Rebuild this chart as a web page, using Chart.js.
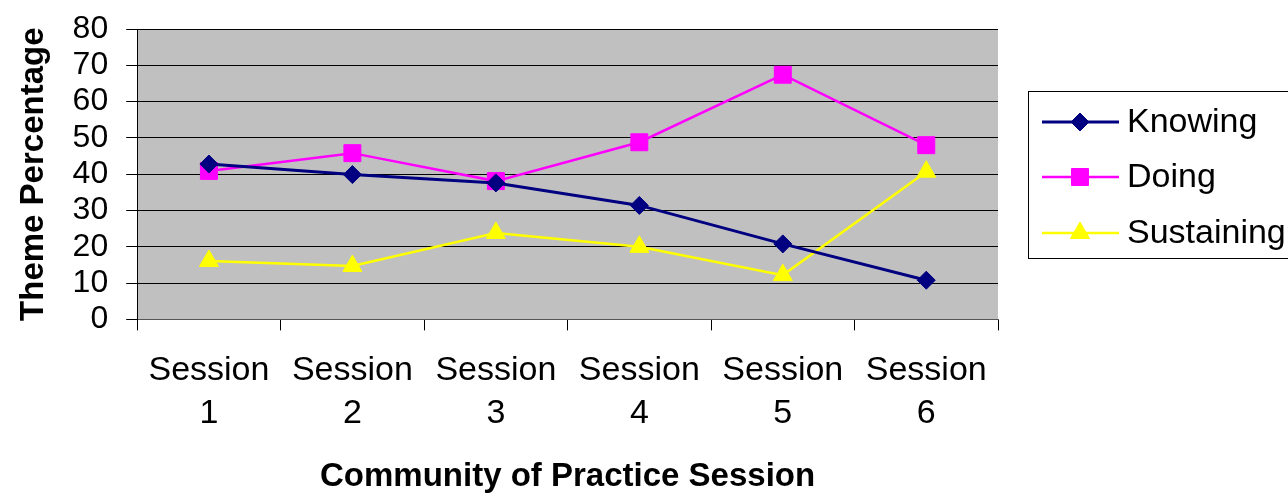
<!DOCTYPE html>
<html>
<head>
<meta charset="utf-8">
<script src="https://cdn.jsdelivr.net/npm/chart.js@4/dist/chart.umd.min.js"></script>
<style>
  html, body { margin: 0; padding: 0; background: #ffffff; }
  #wrap { width: 1288px; height: 493px; position: relative; }
</style>
</head>
<body>
<div id="wrap"><canvas id="c" width="1288" height="493"></canvas></div>
<script>
// ---- Data ----
const categories = ['Session 1', 'Session 2', 'Session 3', 'Session 4', 'Session 5', 'Session 6'];
const xTickLabels = [['Session', '1'], ['Session', '2'], ['Session', '3'], ['Session', '4'], ['Session', '5'], ['Session', '6']];
const seriesNames = ['Knowing', 'Doing', 'Sustaining'];
const knowing = [42.8, 39.9, 37.6, 31.4, 20.8, 10.8];
const doing = [40.9, 45.8, 38.1, 48.8, 67.4, 48.0];
const sustaining = [16.1, 14.7, 23.8, 20.0, 12.2, 40.7];
const yTicks = [0, 10, 20, 30, 40, 50, 60, 70, 80];
const yAxisTitle = 'Theme Percentage';
const xAxisTitle = 'Community of Practice Session';

const FONT = '"Liberation Sans", Arial, Helvetica, sans-serif';

// plot-area background
const plotBg = {
  id: 'plotBg',
  beforeDraw(chart) {
    const { ctx, chartArea: a } = chart;
    ctx.save();
    ctx.fillStyle = '#C0C0C0';
    ctx.fillRect(a.left, a.top, a.right - a.left, a.bottom - a.top);
    ctx.restore();
  }
};

function drawMarker(ctx, style, x, y, r, color) {
  ctx.save();
  ctx.fillStyle = color;
  ctx.strokeStyle = color;
  ctx.lineWidth = 1;
  ctx.beginPath();
  if (style === 'rectRot') {
    ctx.moveTo(x - r, y); ctx.lineTo(x, y - r); ctx.lineTo(x + r, y); ctx.lineTo(x, y + r);
  } else if (style === 'rect') {
    const s = Math.SQRT1_2 * r;
    ctx.rect(x - s, y - s, 2 * s, 2 * s);
  } else if (style === 'triangle') {
    let rad = 0;
    ctx.moveTo(x + Math.sin(rad) * r, y - Math.cos(rad) * r);
    rad += 2 * Math.PI / 3;
    ctx.lineTo(x + Math.sin(rad) * r, y - Math.cos(rad) * r);
    rad += 2 * Math.PI / 3;
    ctx.lineTo(x + Math.sin(rad) * r, y - Math.cos(rad) * r);
  }
  ctx.closePath();
  ctx.fill();
  ctx.stroke();
  ctx.restore();
}

// boxed legend on the right
const boxLegend = {
  id: 'boxLegend',
  afterDraw(chart) {
    const ctx = chart.ctx;
    const left = 1028, top = 91, bottom = 258, right = 1300;
    ctx.save();
    ctx.fillStyle = '#ffffff';
    ctx.fillRect(left, top, right - left, bottom - top);
    ctx.strokeStyle = '#000000';
    ctx.lineWidth = 1;
    ctx.strokeRect(left + 0.5, top + 0.5, right - left, bottom - top);
    const rowY = [122, 177, 233];
    chart.data.datasets.forEach((ds, i) => {
      const y = rowY[i];
      ctx.strokeStyle = ds.borderColor;
      ctx.lineWidth = ds.borderWidth;
      ctx.beginPath();
      ctx.moveTo(1042, y);
      ctx.lineTo(1119, y);
      ctx.stroke();
      drawMarker(ctx, ds.pointStyle, 1080, y, ds.pointRadius, ds.pointBackgroundColor);
      ctx.fillStyle = '#000000';
      ctx.font = '34px ' + FONT;
      ctx.textAlign = 'left';
      ctx.textBaseline = 'middle';
      ctx.fillText(ds.label, 1127, y + 1);
    });
    ctx.restore();
  }
};

const styles = [
  { color: '#000080', point: 'rectRot', radius: 9, width: 3 },
  { color: '#FF00FF', point: 'rect', radius: 12, width: 2.5 },
  { color: '#FFFF00', point: 'triangle', radius: 11, width: 2.5 }
];
const seriesData = [knowing, doing, sustaining];

new Chart(document.getElementById('c'), {
  type: 'line',
  data: {
    labels: xTickLabels,
    datasets: seriesNames.map((name, i) => ({
      label: name,
      data: seriesData[i],
      borderColor: styles[i].color,
      backgroundColor: styles[i].color,
      pointBackgroundColor: styles[i].color,
      pointBorderColor: styles[i].color,
      borderWidth: styles[i].width,
      pointStyle: styles[i].point,
      pointRadius: styles[i].radius,
      pointBorderWidth: 1,
      tension: 0,
      fill: false
    }))
  },
  options: {
    responsive: false,
    animation: false,
    devicePixelRatio: 1,
    layout: { padding: { left: 0, right: 290, top: 29, bottom: 0 } },
    plugins: {
      legend: { display: false },
      tooltip: { enabled: false }
    },
    scales: {
      x: {
        offset: true,
        grid: {
          offset: true,
          drawOnChartArea: false,
          drawTicks: true,
          tickLength: 11,
          color: '#000000',
          lineWidth: 1
        },
        border: { display: true, color: '#555555', width: 1 },
        ticks: {
          color: '#000000',
          padding: 19,
          maxRotation: 0,
          autoSkip: false,
          font: { family: FONT, size: 34, lineHeight: 1.25 }
        },
        title: {
          display: true,
          text: xAxisTitle,
          color: '#000000',
          font: { family: FONT, size: 33, weight: 'bold', lineHeight: 1.2 },
          padding: { top: 4, bottom: -4 }
        }
      },
      y: {
        min: 0,
        max: 80,
        afterBuildTicks(scale) { scale.ticks = yTicks.map(v => ({ value: v })); },
        grid: {
          color: '#000000',
          lineWidth: 1,
          tickLength: 11,
          drawTicks: true
        },
        border: { display: true, color: '#000000', width: 1 },
        ticks: {
          color: '#000000',
          padding: 18,
          autoSkip: false,
          font: { family: FONT, size: 32, lineHeight: 0.6 }
        },
        title: {
          display: true,
          text: yAxisTitle,
          color: '#000000',
          font: { family: FONT, size: 33, weight: 'bold', lineHeight: 1.2 },
          padding: { top: 14, bottom: 1 }
        }
      }
    }
  },
  plugins: [plotBg, boxLegend]
});
</script>
</body>
</html>
